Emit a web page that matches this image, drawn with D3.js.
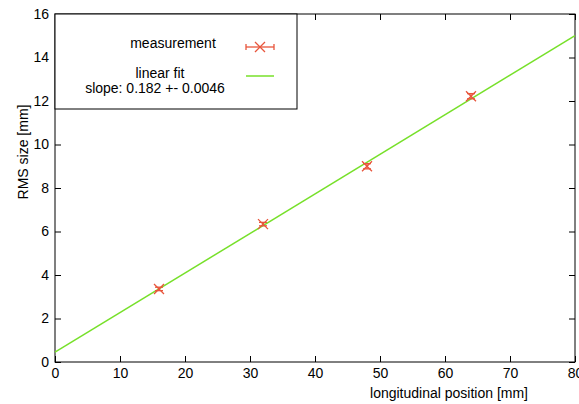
<!DOCTYPE html>
<html>
<head>
<meta charset="utf-8">
<script src="https://cdn.jsdelivr.net/npm/d3@7"></script>
<style>
  body { margin: 0; background: #fff; }
  svg { font-family: "Liberation Sans", Arial, sans-serif; }
</style>
</head>
<body>
<div id="chart"></div>
<script>
// measured beam size along the line
const positions = [16, 32, 48, 64];
const rmsSize = [3.36, 6.34, 9.0, 12.22];
const rmsErr = [0.08, 0.08, 0.12, 0.12];

// fit result
const slope = 0.182;
const intercept = 0.45;

const xTicks = [0, 10, 20, 30, 40, 50, 60, 70, 80];
const yTicks = [0, 2, 4, 6, 8, 10, 12, 14, 16];

const width = 579, height = 404;
const margin = { top: 14, right: 4, bottom: 42, left: 55 };
const w = width - margin.left - margin.right;
const h = height - margin.top - margin.bottom;

const red = '#e8553c';
const green = '#77e02a';
const fontSize = '14px';

const svg = d3.select('#chart')
  .append('svg')
  .attr('width', width)
  .attr('height', height);

const g = svg.append('g')
  .attr('transform', `translate(${margin.left},${margin.top})`);

const x = d3.scaleLinear().domain([0, 80]).range([0, w]);
const y = d3.scaleLinear().domain([0, 16]).range([h, 0]);

// frame
g.append('rect')
  .attr('width', w)
  .attr('height', h)
  .attr('fill', 'none')
  .attr('stroke', '#000')
  .attr('stroke-width', 1);

// ticks point inward on all four sides
const tickLen = 6;
g.append('g')
  .attr('transform', `translate(0,${h})`)
  .call(d3.axisBottom(x).tickValues(xTicks).tickSizeInner(-tickLen).tickSizeOuter(0).tickPadding(6))
  .call(a => a.select('.domain').remove())
  .selectAll('text')
  .style('font-size', fontSize)
  .attr('fill', '#000');

g.append('g')
  .call(d3.axisTop(x).tickValues(xTicks).tickSizeInner(-tickLen).tickSizeOuter(0).tickFormat(''))
  .call(a => a.select('.domain').remove());

g.append('g')
  .call(d3.axisLeft(y).tickValues(yTicks).tickSizeInner(-tickLen).tickSizeOuter(0).tickPadding(6))
  .call(a => a.select('.domain').remove())
  .selectAll('text')
  .style('font-size', fontSize)
  .attr('fill', '#000');

g.append('g')
  .attr('transform', `translate(${w},0)`)
  .call(d3.axisRight(y).tickValues(yTicks).tickSizeInner(-tickLen).tickSizeOuter(0).tickFormat(''))
  .call(a => a.select('.domain').remove());

// axis labels
svg.append('text')
  .attr('transform', 'translate(28,152) rotate(-90)')
  .attr('text-anchor', 'middle')
  .style('font-size', fontSize)
  .text('RMS size [mm]');

svg.append('text')
  .attr('x', 528)
  .attr('y', 398)
  .attr('text-anchor', 'end')
  .style('font-size', fontSize)
  .text('longitudinal position [mm]');

// fit line
g.append('line')
  .attr('x1', x(0))
  .attr('y1', y(intercept))
  .attr('x2', x(80))
  .attr('y2', y(intercept + slope * 80))
  .attr('stroke', green)
  .attr('stroke-width', 1.5);

// data points with error bars
const pts = positions.map((p, i) => ({ x: p, y: rmsSize[i], e: rmsErr[i] }));
const cross = 5;
const pg = g.selectAll('.pt')
  .data(pts)
  .enter()
  .append('g')
  .attr('class', 'pt')
  .attr('stroke', red)
  .attr('stroke-width', 1.3);

pg.append('line')
  .attr('x1', d => x(d.x)).attr('x2', d => x(d.x))
  .attr('y1', d => y(d.y - d.e)).attr('y2', d => y(d.y + d.e));
pg.append('line')
  .attr('x1', d => x(d.x) - 4).attr('x2', d => x(d.x) + 4)
  .attr('y1', d => y(d.y + d.e)).attr('y2', d => y(d.y + d.e));
pg.append('line')
  .attr('x1', d => x(d.x) - 4).attr('x2', d => x(d.x) + 4)
  .attr('y1', d => y(d.y - d.e)).attr('y2', d => y(d.y - d.e));
pg.append('path')
  .attr('d', d => {
    const cx = x(d.x), cy = y(d.y);
    return `M${cx - cross},${cy - cross}L${cx + cross},${cy + cross}M${cx - cross},${cy + cross}L${cx + cross},${cy - cross}`;
  });

// legend box
const lg = svg.append('g');
lg.append('rect')
  .attr('x', margin.left)
  .attr('y', margin.top)
  .attr('width', 242)
  .attr('height', 95)
  .attr('fill', '#fff')
  .attr('stroke', '#000');

lg.append('text')
  .attr('x', 173).attr('y', 48)
  .attr('text-anchor', 'middle')
  .style('font-size', fontSize)
  .text('measurement');

lg.append('text')
  .attr('x', 160).attr('y', 78)
  .attr('text-anchor', 'middle')
  .style('font-size', fontSize)
  .text('linear fit');

lg.append('text')
  .attr('x', 155).attr('y', 93)
  .attr('text-anchor', 'middle')
  .style('font-size', fontSize)
  .text('slope: ' + slope + ' +- 0.0046');

const mk = lg.append('g').attr('stroke', red).attr('stroke-width', 1.3);
mk.append('line').attr('x1', 246).attr('x2', 274).attr('y1', 47).attr('y2', 47);
mk.append('line').attr('x1', 246).attr('x2', 246).attr('y1', 44).attr('y2', 50);
mk.append('line').attr('x1', 274).attr('x2', 274).attr('y1', 44).attr('y2', 50);
mk.append('path').attr('d', `M${260 - cross},${47 - cross}L${260 + cross},${47 + cross}M${260 - cross},${47 + cross}L${260 + cross},${47 - cross}`);

lg.append('line')
  .attr('x1', 246).attr('x2', 274)
  .attr('y1', 76).attr('y2', 76)
  .attr('stroke', green)
  .attr('stroke-width', 1.5);
</script>
</body>
</html>
